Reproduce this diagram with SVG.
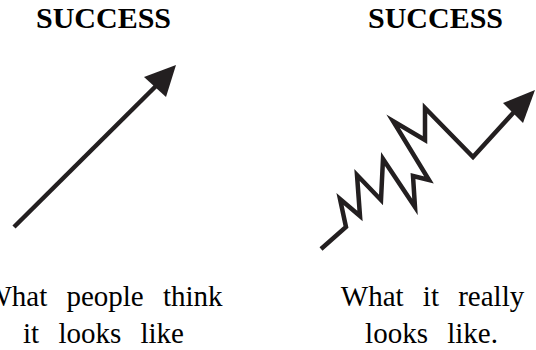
<svg xmlns="http://www.w3.org/2000/svg" width="536" height="350" viewBox="0 0 536 350">
<style>
.title{font-family:"Liberation Serif","Times New Roman",serif;font-weight:bold;font-size:30px;fill:#000;text-anchor:middle}
.cap{font-family:"Liberation Serif","Times New Roman",serif;font-size:29px;fill:#000;text-anchor:middle;word-spacing:12px}
.line{fill:none;stroke:#231f20;stroke-width:4.5;stroke-linejoin:miter;stroke-miterlimit:10;stroke-linecap:butt}
.head{fill:#231f20}
</style>
<rect width="536" height="350" fill="#fff"/>
<g id="left-panel">
<text class="title" x="103.5" y="28">SUCCESS</text>
<text class="cap" x="103.5" y="306">What people think</text>
<text class="cap" x="103.5" y="343">it looks like</text>
</g>
<g id="right-panel">
<text class="title" x="435.5" y="28">SUCCESS</text>
<text class="cap" x="432.5" y="306">What it really</text>
<text class="cap" x="431.5" y="343">looks like.</text>
</g>
<g id="connectors">
<path class="line" d="M14,227 L157,85"/>
<polygon class="head" points="176,65 144,77 166,97"/>
<path class="line" d="M321,249 L346,227 L340,199 L360,216 L357,175 L381,200 L383,159 L415,207 L413,176 L429,180 L393,121 L425,140 L425,108 L473,157 L514,112"/>
<polygon class="head" points="535,90 503,103 523,123"/>
</g>
</svg>
